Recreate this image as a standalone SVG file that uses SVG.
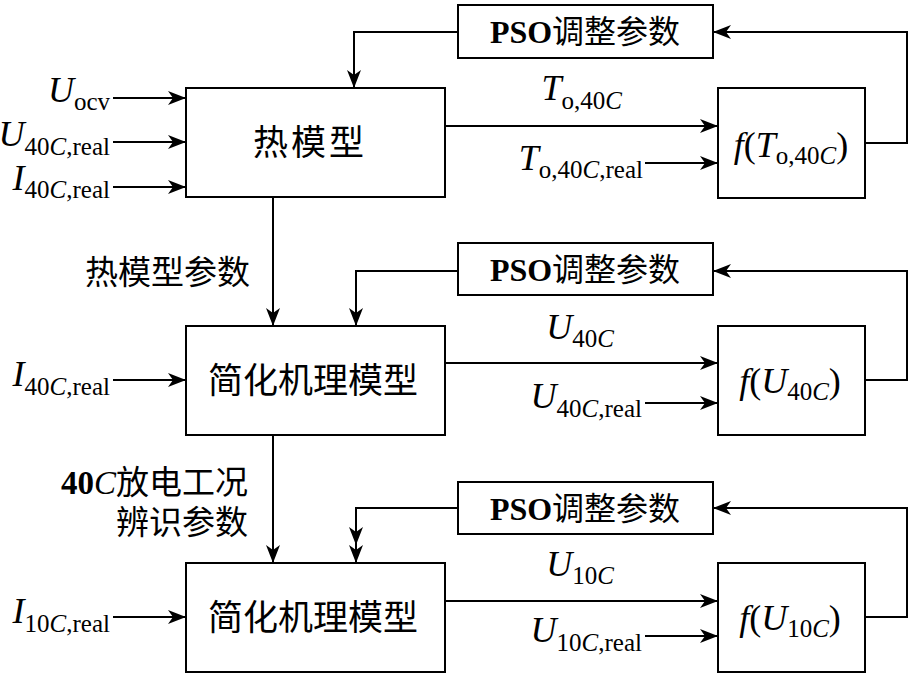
<svg xmlns="http://www.w3.org/2000/svg" width="911" height="677" viewBox="0 0 911 677">
<style>
.box{fill:#fff;stroke:#000;stroke-width:2}
.ln{fill:none;stroke:#000;stroke-width:2;marker-end:url(#ah)}
.cn{font-family:"Liberation Serif","Noto Sans CJK SC",serif;font-size:33px;fill:#000}
.big{font-size:35px}
.pso{font-family:"Liberation Serif","Noto Sans CJK SC",serif;font-size:32px;fill:#000}
.b{font-weight:bold}
.m{font-family:"Liberation Serif",serif;font-size:36px;fill:#000}
.i{font-style:italic}
.s{font-size:25px}
</style>
<defs>
<marker id="ah" markerUnits="userSpaceOnUse" markerWidth="20" markerHeight="16" refX="18" refY="7" orient="auto">
<path d="M0,0 L18,7 L0,14 L5,7 z" fill="#000"/>
</marker>
</defs>
<g id="connectors">
<path class="ln" d="M113,98 H186"/>
<path class="ln" d="M113,142 H186"/>
<path class="ln" d="M113,187 H186"/>
<path class="ln" d="M445,126 H718"/>
<path class="ln" d="M645,163 H718"/>
<path class="ln" d="M865,143 H907 V32 H713"/>
<path class="ln" d="M458,32 H354 V88"/>
<path class="ln" d="M273,197 V326"/>
<path class="ln" d="M113,380 H186"/>
<path class="ln" d="M445,363 H718"/>
<path class="ln" d="M645,403 H718"/>
<path class="ln" d="M865,380 H907 V271 H713"/>
<path class="ln" d="M458,271 H356 V326"/>
<path class="ln" d="M273,435 V563"/>
<path class="ln" d="M113,617 H186"/>
<path class="ln" d="M445,601 H718"/>
<path class="ln" d="M645,636 H718"/>
<path class="ln" d="M865,617 H907 V508 H713"/>
<path class="ln" d="M458,508 H356 V563"/>
<path d="M349,527 L356,545 L363,527 L356,532 z" fill="#000"/>
</g>
<g id="heat-model">
<rect class="box" x="186" y="88" width="259" height="109"/>
<text class="cn big" x="310" y="155" text-anchor="middle" letter-spacing="3">热模型</text>
</g>
<g id="pso1">
<rect class="box" x="458" y="5" width="255" height="53"/>
<text class="pso" x="585" y="43" text-anchor="middle"><tspan class="b">PSO</tspan>调整参数</text>
</g>
<g id="f1">
<rect class="box" x="718" y="88" width="147" height="110"/>
<text class="m" x="791" y="157" text-anchor="middle"><tspan class="i">f</tspan>(<tspan class="i">T</tspan><tspan class="s" dy="7">o,40<tspan class="i">C</tspan></tspan><tspan dy="-7">)</tspan></text>
</g>
<g id="simplified1">
<rect class="box" x="186" y="326" width="259" height="109"/>
<text class="cn big" x="313" y="393" text-anchor="middle">简化机理模型</text>
</g>
<g id="pso2">
<rect class="box" x="458" y="243" width="255" height="52"/>
<text class="pso" x="585" y="281" text-anchor="middle"><tspan class="b">PSO</tspan>调整参数</text>
</g>
<g id="f2">
<rect class="box" x="718" y="326" width="147" height="109"/>
<text class="m" x="790" y="393" text-anchor="middle"><tspan class="i">f</tspan>(<tspan class="i">U</tspan><tspan class="s" dy="7">40<tspan class="i">C</tspan></tspan><tspan dy="-7">)</tspan></text>
</g>
<g id="simplified2">
<rect class="box" x="186" y="563" width="259" height="109"/>
<text class="cn big" x="313" y="630" text-anchor="middle">简化机理模型</text>
</g>
<g id="pso3">
<rect class="box" x="458" y="482" width="255" height="52"/>
<text class="pso" x="585" y="520" text-anchor="middle"><tspan class="b">PSO</tspan>调整参数</text>
</g>
<g id="f3">
<rect class="box" x="718" y="563" width="147" height="109"/>
<text class="m" x="790" y="630" text-anchor="middle"><tspan class="i">f</tspan>(<tspan class="i">U</tspan><tspan class="s" dy="7">10<tspan class="i">C</tspan></tspan><tspan dy="-7">)</tspan></text>
</g>
<g id="labels">
<text class="m" x="110" y="102" text-anchor="end"><tspan class="i">U</tspan><tspan class="s" dy="8">ocv</tspan></text>
<text class="m" x="110" y="146" text-anchor="end"><tspan class="i">U</tspan><tspan class="s" dy="9">40<tspan class="i">C</tspan>,real</tspan></text>
<text class="m" x="110" y="190" text-anchor="end"><tspan class="i">I</tspan><tspan class="s" dy="8">40<tspan class="i">C</tspan>,real</tspan></text>
<text class="m" x="622" y="100" text-anchor="end"><tspan class="i">T</tspan><tspan class="s" dy="9">o,40<tspan class="i">C</tspan></tspan></text>
<text class="m" x="643" y="170" text-anchor="end"><tspan class="i">T</tspan><tspan class="s" dy="8">o,40<tspan class="i">C</tspan>,real</tspan></text>
<text class="cn" x="250" y="284" text-anchor="end">热模型参数</text>
<text class="m" x="110" y="386" text-anchor="end"><tspan class="i">I</tspan><tspan class="s" dy="9">40<tspan class="i">C</tspan>,real</tspan></text>
<text class="m" x="614" y="339" text-anchor="end"><tspan class="i">U</tspan><tspan class="s" dy="8">40<tspan class="i">C</tspan></tspan></text>
<text class="m" x="642" y="408" text-anchor="end"><tspan class="i">U</tspan><tspan class="s" dy="9">40<tspan class="i">C</tspan>,real</tspan></text>
<text class="cn" x="248" y="494" text-anchor="end"><tspan class="b">40</tspan><tspan font-style="italic" font-family="Liberation Serif">C</tspan>放电工况</text>
<text class="cn" x="248" y="534" text-anchor="end">辨识参数</text>
<text class="m" x="110" y="623" text-anchor="end"><tspan class="i">I</tspan><tspan class="s" dy="9">10<tspan class="i">C</tspan>,real</tspan></text>
<text class="m" x="614" y="576" text-anchor="end"><tspan class="i">U</tspan><tspan class="s" dy="8">10<tspan class="i">C</tspan></tspan></text>
<text class="m" x="642" y="642" text-anchor="end"><tspan class="i">U</tspan><tspan class="s" dy="9">10<tspan class="i">C</tspan>,real</tspan></text>
</g>
</svg>
